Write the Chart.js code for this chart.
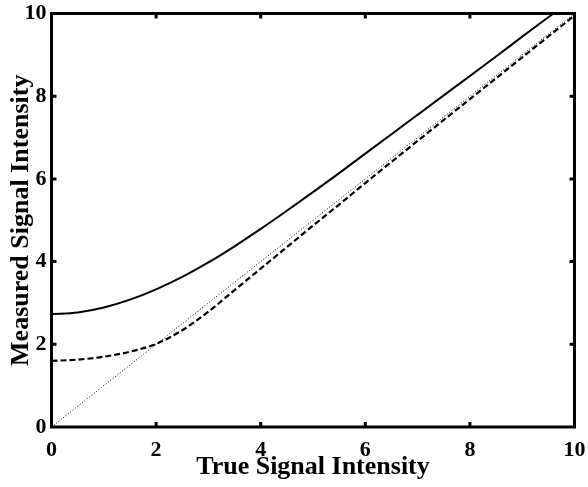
<!DOCTYPE html>
<html><head><meta charset="utf-8">
<script src="https://cdn.jsdelivr.net/npm/chart.js@4.4.1/dist/chart.umd.min.js"></script>
<style>html,body{margin:0;padding:0;background:#fff}#wrap{width:588px;height:487px}</style>
</head><body><div id="wrap"><canvas id="c" width="588" height="487"></canvas></div>
<script>
// True signal intensity (x) and measured signal intensity (y)
const solidX = [0,0.5,1,1.5,2,2.5,3,3.5,4,4.5,5,5.5,6,6.5,7,7.5,8,8.5,9,9.5,9.6];
const solidY = [2.73,2.77,2.89,3.08,3.33,3.63,3.98,4.37,4.79,5.23,5.68,6.14,6.61,7.08,7.55,8.02,8.49,8.96,9.44,9.91,10.0];
const dashX = [0,0.5,1,1.5,2,2.5,3,3.5,4,4.5,5,5.5,6,7,8,9,10];
const dashY = [1.60,1.63,1.70,1.82,2.01,2.34,2.79,3.31,3.83,4.35,4.87,5.38,5.90,6.92,7.93,8.94,9.95];
const dotX = [0,10];
const dotY = [0,10];
const tickValues = [0,2,4,6,8,10];
const xTitle = 'True Signal Intensity';
const yTitle = 'Measured Signal Intensity';

const pts = (xs, ys) => xs.map((v,i)=>({x:v, y:ys[i]}));
const serif = '"Liberation Serif", "Times New Roman", serif';

const frame = {
  id:'frame',
  afterDatasetsDraw(chart){
    const {ctx, chartArea:a, scales:{x,y}} = chart;
    ctx.save();
    ctx.strokeStyle='#000';
    ctx.lineWidth=3;
    ctx.strokeRect(a.left,a.top,a.right-a.left,a.bottom-a.top);
    const L=5;
    ctx.beginPath();
    tickValues.forEach(v=>{
      if (v<=x.min || v>=x.max) return;
      const px=x.getPixelForValue(v);
      ctx.moveTo(px,a.bottom); ctx.lineTo(px,a.bottom-L);
      ctx.moveTo(px,a.top); ctx.lineTo(px,a.top+L);
    });
    tickValues.forEach(v=>{
      if (v<=y.min || v>=y.max) return;
      const py=y.getPixelForValue(v);
      ctx.moveTo(a.left,py); ctx.lineTo(a.left+L,py);
      ctx.moveTo(a.right,py); ctx.lineTo(a.right-L,py);
    });
    ctx.stroke();
    ctx.restore();
  }
};

new Chart(document.getElementById('c'), {
  type:'line',
  data:{datasets:[
    {data:pts(solidX,solidY), borderColor:'#000', borderWidth:2, pointRadius:0, cubicInterpolationMode:'monotone', fill:false},
    {data:pts(dashX,dashY), borderColor:'#000', borderWidth:2.2, borderDash:[6,3], pointRadius:0, cubicInterpolationMode:'monotone', fill:false},
    {data:pts(dotX,dotY), borderColor:'#000', borderWidth:1, borderDash:[1,2], pointRadius:0, fill:false}
  ]},
  options:{
    responsive:false, animation:false, devicePixelRatio:1,
    layout:{padding:{left:0,right:13.5,top:13.5,bottom:0}},
    plugins:{legend:{display:false}, tooltip:{enabled:false}},
    scales:{
      x:{type:'linear', min:0, max:10,
        afterBuildTicks:s=>{s.ticks=tickValues.map(v=>({value:v}));},
        afterFit:s=>{s.height=60;},
        grid:{display:false, drawTicks:true, tickLength:10}, border:{display:false},
        ticks:{padding:0, color:'#000', maxRotation:0, font:{family:serif, size:22, weight:'bold'}, callback:v=>String(v)},
        title:{display:true, text:xTitle, color:'#000', padding:{top:0,bottom:4}, font:{family:serif, size:26, weight:'bold'}}
      },
      y:{type:'linear', min:0, max:10,
        afterBuildTicks:s=>{s.ticks=tickValues.map(v=>({value:v}));},
        afterFit:s=>{s.width=51.5;},
        grid:{display:false, drawTicks:true, tickLength:5}, border:{display:false},
        ticks:{padding:0, color:'#000', font:{family:serif, size:22, weight:'bold'}, callback:v=>String(v)},
        title:{display:true, text:yTitle, color:'#000', padding:{top:6,bottom:0}, font:{family:serif, size:26, weight:'bold'}}
      }
    }
  },
  plugins:[frame]
});
</script></body></html>
